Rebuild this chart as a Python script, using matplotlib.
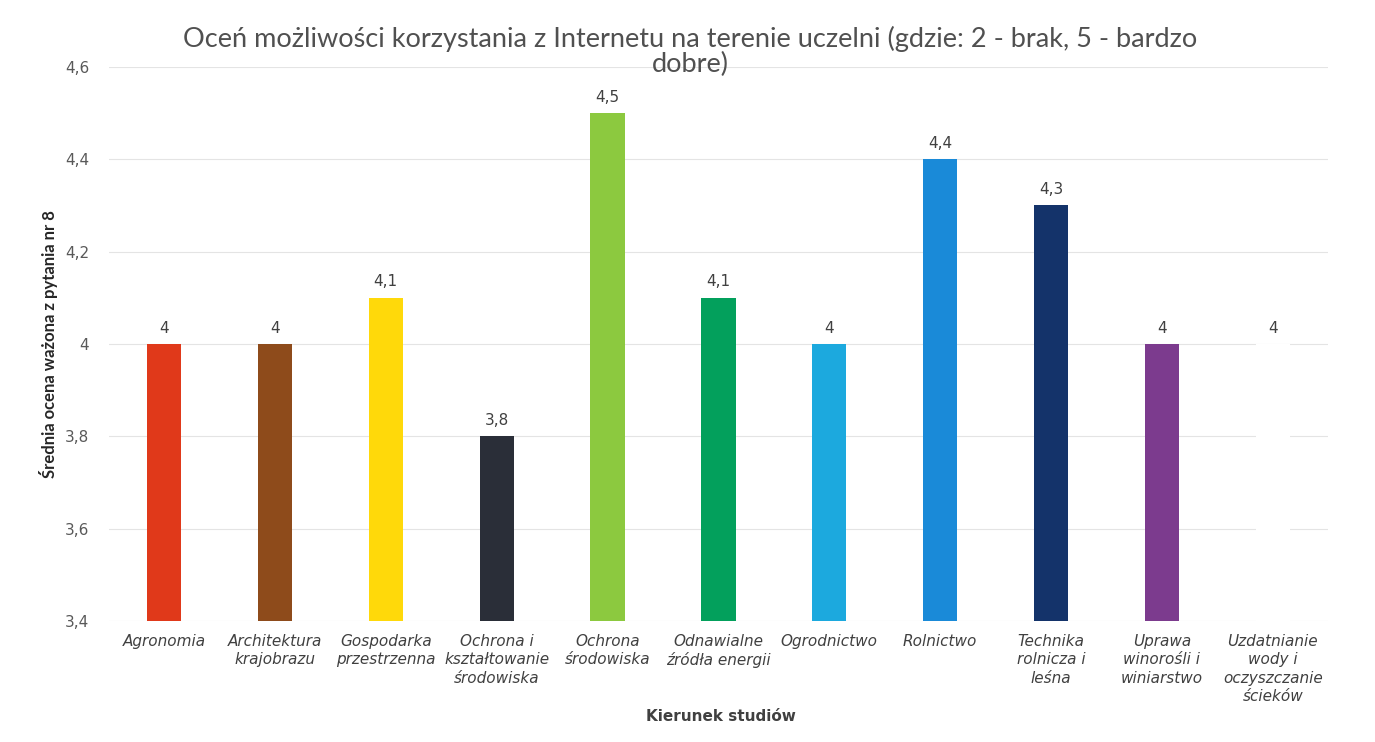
import matplotlib.pyplot as plt
from matplotlib.ticker import FuncFormatter

categories = [
    "Agronomia",
    "Architektura\nkrajobrazu",
    "Gospodarka\nprzestrzenna",
    "Ochrona i\nkształtowanie\nśrodowiska",
    "Ochrona\nśrodowiska",
    "Odnawialne\nźródła energii",
    "Ogrodnictwo",
    "Rolnictwo",
    "Technika\nrolnicza i\nleśna",
    "Uprawa\nwinorośli i\nwiniarstwo",
    "Uzdatnianie\nwody i\noczyszczanie\nścieków",
]
values = [4.0, 4.0, 4.1, 3.8, 4.5, 4.1, 4.0, 4.4, 4.3, 4.0, 4.0]
colors = ["#e0391a", "#8e4b1b", "#ffd90a", "#2a2e38", "#8cc93f", "#03a05c",
          "#1ca9de", "#1a8ad8", "#14336a", "#7c3b8e", "#ffffff"]
yticks = [3.4, 3.6, 3.8, 4.0, 4.2, 4.4, 4.6]


def comma(v):
    s = f"{v:.1f}".replace(".", ",")
    return s[:-2] if s.endswith(",0") else s


fig = plt.figure(figsize=(13.75, 7.42), dpi=100)
ax = fig.add_axes([0.079, 0.163, 0.887, 0.747])

x = range(len(categories))
ax.bar(x, [v - 3.4 for v in values], bottom=3.4, width=0.31, color=colors, zorder=2)

for xi, v in zip(x, values):
    ax.text(xi, v + 0.018, comma(v), ha="center", va="bottom", fontsize=11, color="#404040")

ax.set_ylim(3.4, 4.6)
ax.set_xlim(-0.5, len(categories) - 0.5)
ax.set_yticks(yticks)
ax.yaxis.set_major_formatter(FuncFormatter(lambda v, p: comma(v)))
ax.grid(axis="y", color="#e4e4e4", linewidth=0.8, zorder=0)
ax.tick_params(axis="y", length=0, labelsize=11, labelcolor="#595959", pad=14)
ax.tick_params(axis="x", length=0, pad=9)
ax.set_xticks(list(x))
ax.set_xticklabels(categories, fontsize=11, style="italic", color="#404040", linespacing=1.3)
for s in ax.spines.values():
    s.set_visible(False)

ax.set_ylabel("Średnia ocena ważona z pytania nr 8", fontsize=12, fontweight="bold",
              color="#262626", labelpad=5, family=["Lato", "DejaVu Sans"])
fig.text(0.524, 0.028, "Kierunek studiów", ha="center", fontsize=11, fontweight="bold",
         color="#404040")
fig.text(0.502, 0.965, "Oceń możliwości korzystania z Internetu na terenie uczelni (gdzie: 2 - brak, 5 - bardzo\ndobre)",
         ha="center", va="top", fontsize=19.5, color="#505050", linespacing=1.0,
         family=["Lato", "DejaVu Sans"])

fig.savefig("out.png", dpi=100)
